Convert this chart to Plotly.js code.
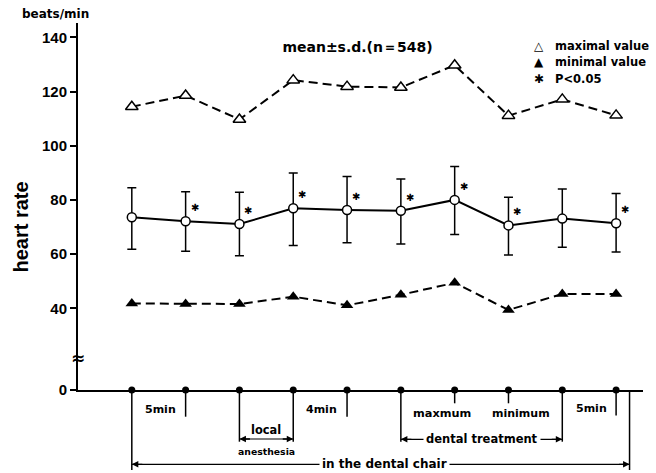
<!DOCTYPE html>
<html><head><meta charset="utf-8">
<script src="https://cdn.plot.ly/plotly-3.0.1.min.js"></script>
<style>html,body{margin:0;padding:0;background:#fff}#chart{width:656px;height:473px}</style>
</head><body><div id="chart"></div>
<script>
// ---- data ----
const phaseIndex = [0, 1, 2, 3, 4, 5, 6, 7, 8, 9];
const maxValues  = [114.4, 118.5, 109.7, 124.2, 121.8, 121.5, 129.7, 111.1, 117.1, 111.2];
const meanValues = [73.6, 72.1, 71.1, 76.9, 76.3, 76.0, 80.0, 70.6, 73.1, 71.4];
const sdUpper    = [10.9, 10.9, 11.7, 13.0, 12.3, 11.7, 12.3, 10.4, 10.9, 11.0];
const sdLower    = [11.8, 11.0, 11.7, 13.7, 12.1, 12.3, 12.8, 10.9, 10.6, 10.6];
const minValues  = [41.8, 41.6, 41.6, 44.3, 41.1, 45.0, 49.4, 39.4, 45.3, 45.3];
const significant = [false, true, true, true, true, true, true, true, false, true];
const yTickVals = [40, 60, 80, 100, 120, 140];
const baseline = phaseIndex.map(() => 0);

// ---- layout geometry ----
const W = 656, H = 473, L = 78, R = 13, T = 23, B = 83;
const plotW = W - L - R, plotH = H - T - B;
const X = px => (px - L) / plotW;
const Y = py => (H - B - py) / plotH;
const breakFrac = Y(360);
const BLK = '#000';
const labFont = (s) => ({family: 'DejaVu Sans', size: s, color: BLK, weight: 'bold'});
const C = {xanchor: 'center', yanchor: 'middle', showarrow: false};

const traces = [
  {x: phaseIndex, y: maxValues, mode: 'lines+markers', xaxis: 'x', yaxis: 'y',
   line: {color: BLK, width: 2, dash: '9px,5px'},
   marker: {symbol: 'triangle-up', size: 11, color: '#fff', line: {color: BLK, width: 1.5}},
   hoverinfo: 'skip'},
  {x: phaseIndex, y: minValues, mode: 'lines+markers', xaxis: 'x', yaxis: 'y',
   line: {color: BLK, width: 2, dash: '9px,5px'},
   marker: {symbol: 'triangle-up', size: 11, color: BLK},
   hoverinfo: 'skip'},
  {x: phaseIndex, y: meanValues, mode: 'lines+markers', xaxis: 'x', yaxis: 'y',
   line: {color: BLK, width: 2},
   error_y: {type: 'data', symmetric: false, array: sdUpper, arrayminus: sdLower,
             color: BLK, thickness: 1.5, width: 4.5},
   marker: {symbol: 'circle', size: 9, color: '#fff', line: {color: BLK, width: 1.5}},
   hoverinfo: 'skip'},
  {x: phaseIndex, y: baseline, mode: 'markers', xaxis: 'x', yaxis: 'y2',
   marker: {symbol: 'circle', size: 7, color: BLK}, cliponaxis: false, hoverinfo: 'skip'}
];

const annotations = [];
// significance asterisks
phaseIndex.forEach(i => {
  if (significant[i]) annotations.push(Object.assign({}, C, {x: i, y: meanValues[i], xref: 'x', yref: 'y',
    text: '✱', xshift: 9, yshift: 13.5,
    font: {family: 'DejaVu Sans', size: 10, color: BLK}}));
});
// top texts
annotations.push(Object.assign({}, C, {x: X(55.5), y: Y(14), xref: 'paper', yref: 'paper', text: 'beats/min',
  font: labFont(12)}));
annotations.push(Object.assign({}, C, {x: X(20), y: Y(227.5), xref: 'paper', yref: 'paper', text: 'heart rate',
  textangle: -90, font: {family: 'Liberation Sans', size: 20, color: BLK, weight: 'bold'}}));
annotations.push(Object.assign({}, C, {x: X(77.7), y: Y(358.3), xref: 'paper', yref: 'paper', text: '≈',
  font: {family: 'DejaVu Sans', size: 17, color: BLK, weight: 'bold'}}));
// legend
const legendRows = [['△', 'maximal value', 45.7], ['▲', 'minimal value', 62.3], ['✱', 'P<0.05', 79.3]];
legendRows.forEach(r => {
  annotations.push(Object.assign({}, C, {x: X(539.3), y: Y(r[2]), xref: 'paper', yref: 'paper', text: r[0],
    font: {family: 'DejaVu Sans', size: 12, color: BLK}}));
  annotations.push(Object.assign({}, C, {x: X(552.7), y: Y(r[2]), xref: 'paper', yref: 'paper', text: r[1],
    xanchor: 'left', font: labFont(11.5)}));
});
// bottom phase labels
const phaseLabels = [
  ['5min', 0.53, 409.3, 11], ['4min', 3.52, 409.3, 11], ['maxmum', 5.76, 413.3, 11.3],
  ['minimum', 7.24, 413.3, 11], ['5min', 8.55, 408.3, 11], ['local', 2.5, 430, 11.4],
  ['anesthesia', 2.5, 451.7, 9.3]
];
phaseLabels.forEach(p => annotations.push(Object.assign({}, C, {x: p[1], y: Y(p[2]), xref: 'x', yref: 'paper',
  text: p[0], font: labFont(p[3])})));

// guides under the axis
const shapes = [];
const guideBottoms = [470, 416.7, 441.7, 441.7, 416.7, 441.7, 403.3, 403.3, 441.7, 415.5];
phaseIndex.forEach(i => shapes.push({type: 'line', xref: 'x', yref: 'paper', x0: i, x1: i,
  y0: 0, y1: Y(guideBottoms[i]), line: {color: BLK, width: 1.5}}));
const chairEnd = 9.25;
shapes.push({type: 'line', xref: 'x', yref: 'paper', x0: chairEnd, x1: chairEnd, y0: 0, y1: Y(470),
  line: {color: BLK, width: 1.5}});
const spans = [[2, 3, 439], [5, 8, 439.3], [0, chairEnd, 464.3]];
spans.forEach(s => {
  shapes.push({type: 'line', xref: 'x', yref: 'paper', x0: s[0], x1: s[1], y0: Y(s[2]), y1: Y(s[2]),
    line: {color: BLK, width: 1.2}});
  annotations.push({x: s[0], y: Y(s[2]), xref: 'x', yref: 'paper', ax: 12, ay: 0,
    axref: 'pixel', ayref: 'pixel', text: '', showarrow: true, arrowhead: 2, arrowsize: 1,
    arrowwidth: 1.3, arrowcolor: BLK});
  annotations.push({x: s[1], y: Y(s[2]), xref: 'x', yref: 'paper', ax: -12, ay: 0,
    axref: 'pixel', ayref: 'pixel', text: '', showarrow: true, arrowhead: 2, arrowsize: 1,
    arrowwidth: 1.3, arrowcolor: BLK});
});
annotations.push(Object.assign({}, C, {x: 6.5, y: Y(439.3), xref: 'x', yref: 'paper', text: 'dental treatment',
  bgcolor: '#fff', borderpad: 2, font: labFont(11.5)}));
annotations.push(Object.assign({}, C, {x: 4.7, y: Y(464.3), xref: 'x', yref: 'paper', text: 'in the dental chair',
  bgcolor: '#fff', borderpad: 2, font: labFont(12)}));

const tickFont = {family: 'Liberation Sans', size: 15, color: BLK, weight: 'bold'};
const layout = {
  width: W, height: H, margin: {l: L, r: R, t: T, b: B, pad: 0},
  paper_bgcolor: '#fff', plot_bgcolor: '#fff', showlegend: false,
  title: {text: 'mean±s.d.(n＝548)', x: 357.5 / W, y: 1 - 47 / H, xref: 'container', yref: 'container',
    xanchor: 'center', yanchor: 'middle', font: {family: 'DejaVu Sans', size: 14, color: BLK, weight: 'bold'}},
  xaxis: {range: [-1, 9.5], anchor: 'y2', showline: true, linewidth: 2, linecolor: BLK,
    showticklabels: false, ticks: '', showgrid: false, zeroline: false, fixedrange: true},
  yaxis: {domain: [breakFrac, 1], range: [20.93, 145.28], tickvals: yTickVals, ticks: 'outside',
    ticklen: 6, tickwidth: 2, tickcolor: BLK, showline: true, linewidth: 2, linecolor: BLK,
    showgrid: false, zeroline: false, tickfont: tickFont, fixedrange: true},
  yaxis2: {domain: [0, breakFrac], range: [0, 11.07], tickvals: [0], ticktext: ['0'], ticks: 'outside',
    ticklen: 6, tickwidth: 2, tickcolor: BLK, showline: true, linewidth: 2, linecolor: BLK,
    showgrid: false, zeroline: false, tickfont: tickFont, fixedrange: true},
  annotations: annotations, shapes: shapes
};
Plotly.newPlot('chart', traces, layout, {staticPlot: true, displayModeBar: false});
</script></body></html>
